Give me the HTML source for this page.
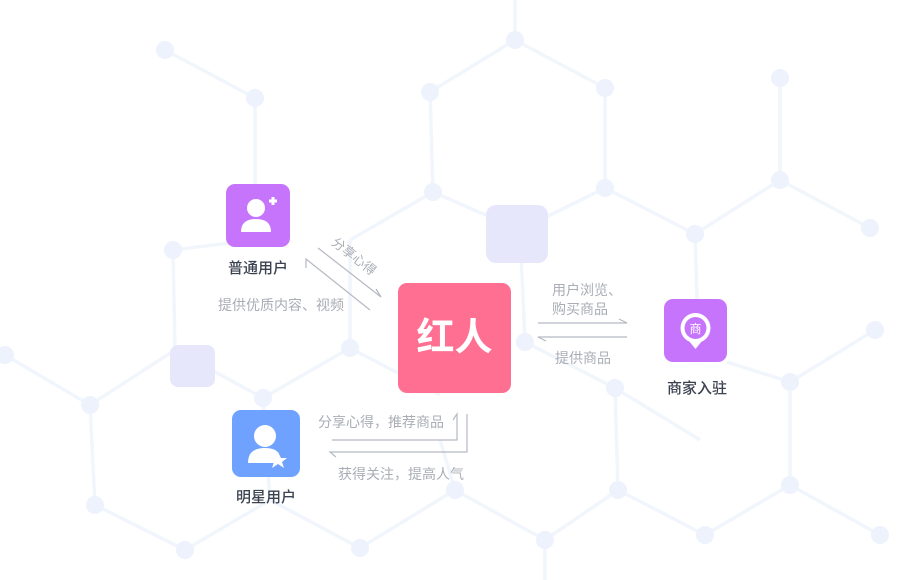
<!DOCTYPE html>
<html><head><meta charset="utf-8"><style>
html,body{margin:0;padding:0;background:#fff;}
body{width:902px;height:580px;position:relative;overflow:hidden;font-family:"Liberation Sans","Noto Sans CJK SC",sans-serif;}
.t{position:absolute;white-space:nowrap;font-size:14px;color:#a9adb5;}
.lb{position:absolute;white-space:nowrap;font-size:15px;color:#3b4250;transform:translateX(-50%);font-weight:500;}
.box{position:absolute;border-radius:9px;}
</style></head><body>
<svg width="902" height="580" style="position:absolute;left:0;top:0">
<g stroke="#f1f5fc" stroke-width="3.5" fill="none">
<path d="M165 50 L255 98 L255 240 L173 250 L175 350"/>
<path d="M515 0 L515 40 L430 92 L433 192 L350 240"/>
<path d="M515 40 L605 88 L605 188 L520 230"/>
<path d="M433 192 L520 230 L525 342 L615 388 L700 440"/>
<path d="M605 188 L695 234 L780 180 L870 228"/>
<path d="M780 78 L780 180"/>
<path d="M695 234 L697 299"/>
<path d="M350 240 L350 348 L263 398 L175 350 L90 405 L5 355"/>
<path d="M350 348 L440 395"/>
<path d="M727 362 L790 382 L875 330"/>
<path d="M615 388 L618 490 L545 540 L455 490 L440 440"/>
<path d="M790 382 L790 485 L705 535 L618 490"/>
<path d="M790 485 L880 535"/>
<path d="M90 405 L95 505 L185 550"/>
<path d="M263 398 L270 500 L185 550"/>
<path d="M270 500 L360 548 L455 490"/>
<path d="M545 540 L545 580"/>
</g>
<g fill="#edf2fc">
<circle cx="165" cy="50" r="9"/><circle cx="255" cy="98" r="9"/><circle cx="430" cy="92" r="9"/><circle cx="515" cy="40" r="9"/><circle cx="605" cy="88" r="9"/><circle cx="780" cy="78" r="9"/><circle cx="433" cy="192" r="9"/><circle cx="605" cy="188" r="9"/><circle cx="695" cy="234" r="9"/><circle cx="780" cy="180" r="9"/><circle cx="870" cy="228" r="9"/><circle cx="173" cy="250" r="9"/><circle cx="350" cy="348" r="9"/><circle cx="263" cy="398" r="9"/><circle cx="90" cy="405" r="9"/><circle cx="5" cy="355" r="9"/><circle cx="525" cy="342" r="9"/><circle cx="615" cy="388" r="9"/><circle cx="790" cy="382" r="9"/><circle cx="875" cy="330" r="9"/><circle cx="618" cy="490" r="9"/><circle cx="790" cy="485" r="9"/><circle cx="545" cy="540" r="9"/><circle cx="705" cy="535" r="9"/><circle cx="880" cy="535" r="9"/><circle cx="95" cy="505" r="9"/><circle cx="185" cy="550" r="9"/><circle cx="360" cy="548" r="9"/><circle cx="455" cy="490" r="9"/>
</g>
<rect x="486" y="205" width="62" height="58" rx="10" fill="#e7e7fc"/>
<rect x="170" y="345" width="45" height="42" rx="8" fill="#e7e7fc"/>
<g stroke="#b5b9c2" stroke-width="1.2" fill="none">
<path d="M318 248 L381 297 L376 289"/>
<path d="M370 310 L306 259 L306 268"/>
<path d="M538 323 L627 323 L619 319"/>
<path d="M627 337 L538 337 L546 341"/>
<path d="M332 440 L457 440 L457 414 L453 420"/>
<path d="M467 414 L467 452 L330 452 L336 457"/>
</g>
</svg>
<div class="box" style="left:226px;top:184px;width:64px;height:63px;background:#c674fb;">
<svg width="64" height="63"><circle cx="30" cy="24" r="9" fill="#fff"/><path d="M15 48 Q15 35 30 35 Q45 35 45 48 Z" fill="#fff"/><path d="M43 17 h8 M47 13 v8" stroke="#fff" stroke-width="3"/></svg></div>
<div class="lb" style="left:258px;top:257px;">普通用户</div>
<div class="box" style="left:232px;top:410px;width:68px;height:67px;background:#6fa2ff;">
<svg width="68" height="67"><circle cx="33" cy="26" r="11" fill="#fff"/><path d="M16 53 Q16 38 33 38 Q44 38 47 44 L42 53 Z" fill="#fff"/><polygon points="46,42 49,48 55,48 50,52 52,58 46,54 40,58 42,52 37,48 43,48" fill="#fff"/></svg></div>
<div class="lb" style="left:266px;top:486px;">明星用户</div>
<div class="box" style="left:398px;top:283px;width:113px;height:110px;background:#ff6f92;color:#fff;font-size:38px;font-weight:bold;text-align:center;line-height:110px;">红人</div>
<div class="box" style="left:664px;top:299px;width:63px;height:63px;background:#c674fb;">
<svg width="63" height="63"><circle cx="31.5" cy="29" r="15" fill="#fff"/><path d="M25 42 L31.5 50 L38 42 Z" fill="#fff"/><circle cx="31.5" cy="29" r="11" fill="#c674fb"/><text x="31.5" y="34" font-size="12" fill="#fff" text-anchor="middle" font-family="Noto Sans CJK SC">商</text></svg></div>
<div class="lb" style="left:697px;top:377px;">商家入驻</div>
<div class="t" style="left:340px;top:232px;transform:rotate(38deg);transform-origin:left top;font-size:13px;">分享心得</div>
<div class="t" style="left:218px;top:295px;">提供优质内容、视频</div>
<div class="t" style="left:552px;top:280px;">用户浏览、</div>
<div class="t" style="left:552px;top:299px;">购买商品</div>
<div class="t" style="left:555px;top:348px;">提供商品</div>
<div class="t" style="left:318px;top:412px;">分享心得，推荐商品</div>
<div class="t" style="left:338px;top:464px;">获得关注，提高人气</div>
</body></html>
